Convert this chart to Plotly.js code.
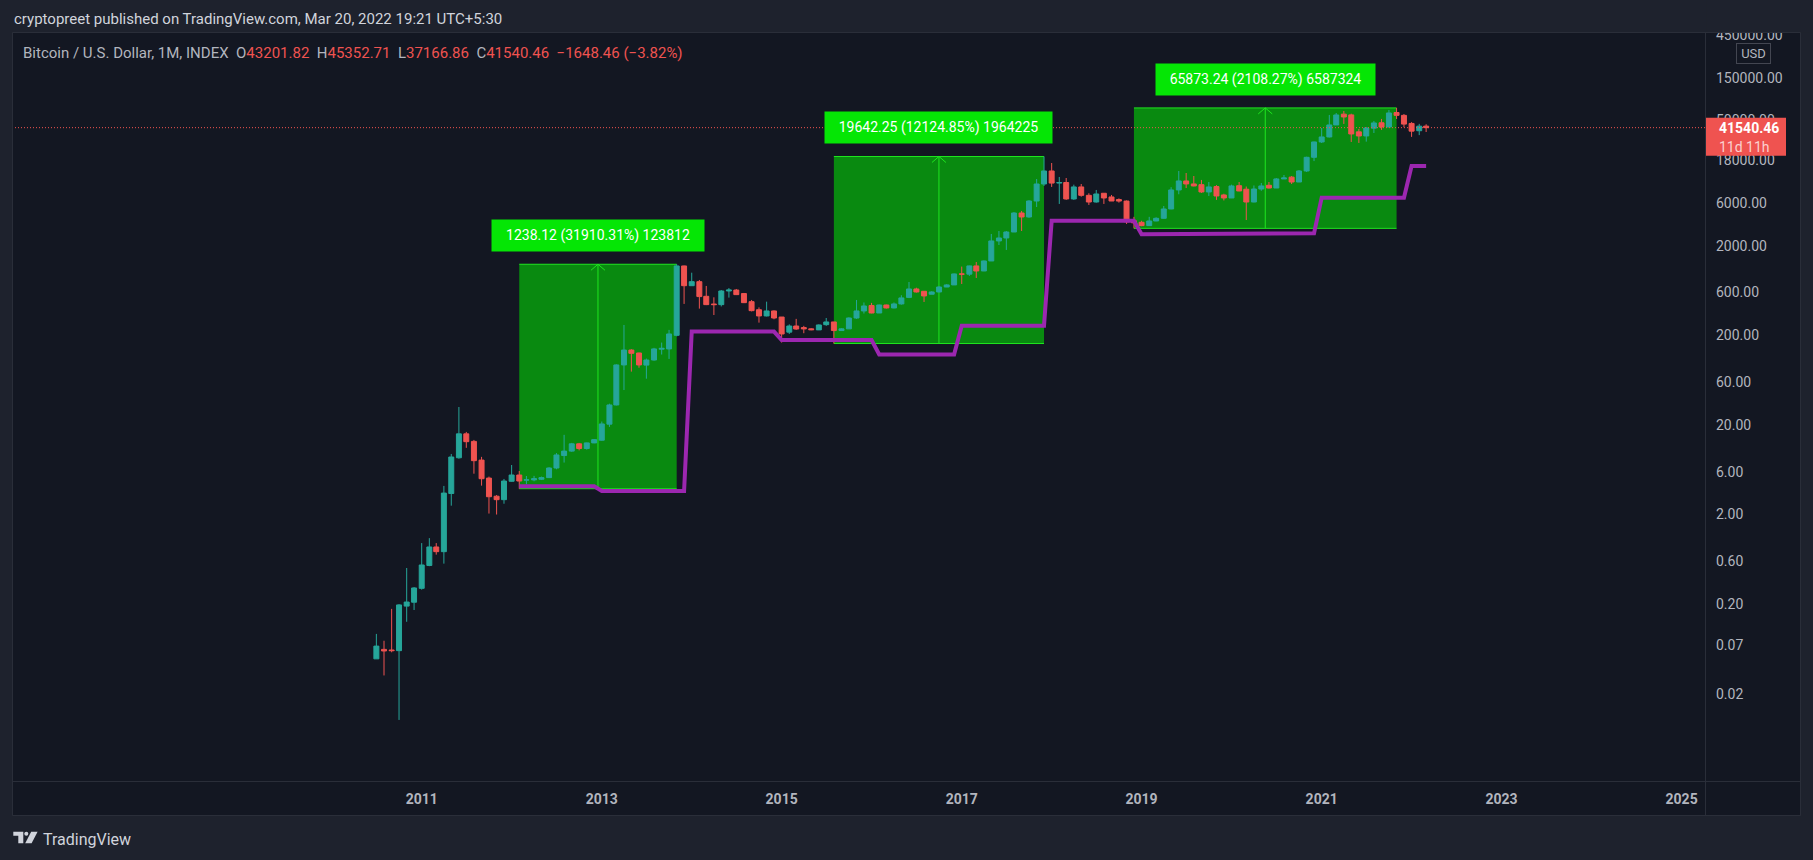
<!DOCTYPE html>
<html><head><meta charset="utf-8">
<script src="https://cdn.plot.ly/plotly-3.0.1.min.js"></script>
<style>html,body{margin:0;padding:0;background:#1e222d;}#chart{width:1813px;height:860px;}</style>
</head><body><div id="chart"></div>
<script>
// ---------- DATA ----------
const months = [
'2010-07-01','2010-08-01','2010-09-01','2010-10-01','2010-11-01','2010-12-01',
'2011-01-01','2011-02-01','2011-03-01','2011-04-01','2011-05-01','2011-06-01','2011-07-01','2011-08-01','2011-09-01','2011-10-01','2011-11-01','2011-12-01',
'2012-01-01','2012-02-01','2012-03-01','2012-04-01','2012-05-01','2012-06-01','2012-07-01','2012-08-01','2012-09-01','2012-10-01','2012-11-01','2012-12-01',
'2013-01-01','2013-02-01','2013-03-01','2013-04-01','2013-05-01','2013-06-01','2013-07-01','2013-08-01','2013-09-01','2013-10-01','2013-11-01','2013-12-01',
'2014-01-01','2014-02-01','2014-03-01','2014-04-01','2014-05-01','2014-06-01','2014-07-01','2014-08-01','2014-09-01','2014-10-01','2014-11-01','2014-12-01',
'2015-01-01','2015-02-01','2015-03-01','2015-04-01','2015-05-01','2015-06-01','2015-07-01','2015-08-01','2015-09-01','2015-10-01','2015-11-01','2015-12-01',
'2016-01-01','2016-02-01','2016-03-01','2016-04-01','2016-05-01','2016-06-01','2016-07-01','2016-08-01','2016-09-01','2016-10-01','2016-11-01','2016-12-01',
'2017-01-01','2017-02-01','2017-03-01','2017-04-01','2017-05-01','2017-06-01','2017-07-01','2017-08-01','2017-09-01','2017-10-01','2017-11-01','2017-12-01',
'2018-01-01','2018-02-01','2018-03-01','2018-04-01','2018-05-01','2018-06-01','2018-07-01','2018-08-01','2018-09-01','2018-10-01','2018-11-01','2018-12-01',
'2019-01-01','2019-02-01','2019-03-01','2019-04-01','2019-05-01','2019-06-01','2019-07-01','2019-08-01','2019-09-01','2019-10-01','2019-11-01','2019-12-01',
'2020-01-01','2020-02-01','2020-03-01','2020-04-01','2020-05-01','2020-06-01','2020-07-01','2020-08-01','2020-09-01','2020-10-01','2020-11-01','2020-12-01',
'2021-01-01','2021-02-01','2021-03-01','2021-04-01','2021-05-01','2021-06-01','2021-07-01','2021-08-01','2021-09-01','2021-10-01','2021-11-01','2021-12-01',
'2022-01-01','2022-02-01','2022-03-01'];

const opens = [
0.049,0.0625,0.0615,0.0605,0.19,0.21,
0.30,0.54,0.869,0.77,3.43,8.6,15.9,13.1,8.1,5.1,3.2,2.93,
4.7,5.52,4.85,4.87,4.95,5.16,6.61,9.1,10.2,12.3,10.9,12.6,
13.5,20.4,33.4,93.4,137,127,93,106,140,141,200,1189,
716,794,545,447,440,625,640,585,475,386,329,374,
320,217,254,244,236,230,263,282,226,236,312,374,
430,355,436,404,448,530,658,620,575,609,692,730,
968,963,1190,1045,1351,2261,2440,2845,4634,4185,6310,9770,
13650,10000,10150,6650,9060,7300,6150,7700,7000,6550,6300,3800,
3650,3350,3776,4045,5140,8380,10560,9780,9600,7960,9150,7370,
6820,9350,8540,6150,8590,9450,8810,11120,11650,10280,13650,19400,
28770,32730,44560,58800,57700,37300,33570,41000,47100,42270,61300,57000,
46300,38400,43201.82];
const highs = [
0.093,0.078,0.177,0.20,0.506,0.31,
0.96,1.09,0.96,4.17,9.48,31.7,16.7,13.6,8.8,5.3,3.3,4.99,
7.14,6.12,5.38,5.4,5.3,6.75,9.7,15.5,12.6,12.6,12.7,13.9,
21.8,34.5,95,261,140,128,110,145,166,230,1242,1200,
1000,829,711,531,640,674,658,594,496,410,475,380,
320,265,305,255,240,265,312,282,240,318,496,465,
460,441,440,465,560,787,680,620,620,705,745,980,
1170,1200,1315,1370,2705,2920,2920,4750,4887,6450,11100,19804.25,
16750,11700,11400,9600,9770,7700,8380,7700,7370,6750,6400,4200,
3800,4200,4150,5550,9000,13650,12960,12000,10840,10280,9500,7600,
9600,10280,9150,9400,10030,10280,11400,12300,12000,14000,19700,29000,
41220,57580,60600,63800,59500,40180,42300,49350,51990,65460,68997.7,59000,
47900,45800,45352.71];
const lows = [
0.049,0.032,0.058,0.0102,0.127,0.172,
0.29,0.53,0.713,0.566,2.51,8.4,11.1,5.71,4.2,2.05,2.0,2.64,
4.65,3.88,4.35,4.7,4.85,5.1,6.4,7.6,10.0,10.4,10.6,12.5,
13.3,19.0,33.0,49,78.7,87,65.6,104,122,109,195,448,
716,397,435,337,420,527,563,458,370,277,325,302,
166,207,230,211,228,229,255,162,225,236,305,350,
352,355,398,400,440,520,600,471,575,605,690,730,
748,920,873,1040,1351,2036,1794,2845,2920,4100,5410,9290,
9060,5850,6500,6500,7050,5700,6050,5850,6300,6050,3500,3124.5,
3300,3350,3750,4000,5100,7500,8810,9200,7760,7180,6490,6400,
6800,8100,3870,6100,8200,8700,8800,11100,9770,10250,13300,17600,
28000,32300,44500,45700,28770,28050,29000,36200,39170,42000,51990,42000,
32800,34300,37166.86];
const closes = [
0.068,0.060,0.0605,0.196,0.211,0.303,
0.547,0.869,0.77,3.47,8.77,15.9,13.0,7.98,5.02,3.16,2.93,4.73,
5.52,4.73,4.87,5.02,5.16,6.61,9.24,10.2,12.3,10.9,12.6,13.7,
20.5,33.4,93.4,137,126,93.4,106,141,143,207,1189,716,
794,541,440,440,625,640,569,463,377,329,374,312,
207,254,235,236,231,261,282,226,236,312,374,425,
355,436,404,448,523,658,609,550,609,692,730,968,
963,1190,1045,1351,2261,2440,2845,4634,4185,6310,9770,13650,
10000,10150,6650,9060,7300,6150,7560,6820,6310,6300,3700,3600,
3350,3776,4045,5140,8380,10560,9780,9290,7960,9060,7180,6820,
9290,8170,6150,8590,9290,8810,11120,11400,10280,13650,19400,28770,
32730,44560,57580,54680,35340,33570,41220,46900,42270,60600,57000,45500,
38000,43188.92,41540.46];

// purple step line (corner points)
const purpleDates = ['2012-02-01','2012-12-01','2013-01-01','2013-12-01','2014-01-01','2014-12-01',
'2015-01-01','2016-01-01','2016-02-01','2016-12-01','2017-01-01','2017-12-01','2018-01-01','2018-12-01',
'2019-01-01','2020-01-01','2020-02-01','2020-12-01','2021-01-01','2021-12-01','2022-01-01','2022-03-01'];
const purpleVals = [4.13,4.13,3.66,3.66,220,220,177,177,122,122,256,256,3800,3800,2680,2680,2750,2750,6880,6880,15520,15520];

// price-range drawings
const boxStart = ['2012-02-01','2015-08-01','2018-12-01'];
const boxEnd   = ['2013-11-01','2017-12-01','2021-11-01'];
const boxLow   = [3.88, 162.0, 3124.5];
const boxHigh  = [1242.0, 19804.25, 68997.7];
const boxLabels = ['1238.12 (31910.31%) 123812','19642.25 (12124.85%) 1964225','65873.24 (2108.27%) 6587324'];

// axis ticks
const yTickVals = [450000,150000,50000,18000,6000,2000,600,200,60,20,6,2,0.6,0.2,0.07,0.02];
const yTickText = ['450000.00','150000.00','50000.00','18000.00','6000.00','2000.00','600.00','200.00','60.00','20.00','6.00','2.00','0.60','0.20','0.07','0.02'];
const xTickVals = ['2011-01-01','2013-01-01','2015-01-01','2017-01-01','2019-01-01','2021-01-01','2023-01-01','2025-01-01'];
const xTickText = ['2011','2013','2015','2017','2019','2021','2023','2025'];

const headerText = 'cryptopreet published on TradingView.com, Mar 20, 2022 19:21 UTC+5:30';
const symbolText = 'Bitcoin / U.S. Dollar, 1M, INDEX';
const countdownText = '11d 11h';

// ---------- LAYOUT HELPERS ----------
const L=12, R=1706, T=33, B=781;
const pw=R-L, ph=B-T;
const yRange = [-2.673, 5.675];
const pxPerDec = ph/(yRange[1]-yRange[0]);
const px = v => (v-L)/pw;
const py = v => (B-v)/ph;
const UP='#26a69a', DN='#ef5350', PAGE='#1e222d', PANEL='#131722', FRAME='#2a2e39';
const GRN_FILL='#098a10', GRN_LINE='#1fe61f', GRN_LBL='#05e605';

const n = closes.length;
const lastO = opens[n-1], lastH = highs[n-1], lastL = lows[n-1], lastC = closes[n-1];
const chg = lastC - closes[n-2];
const pct = chg / closes[n-2] * 100;
const fmt = v => v.toFixed(2).replace('-', '\u2212');
const red = s => '<span style="color:'+DN+'">'+s+'</span>';
const sp = '\u00a0\u00a0';
const legendText = symbolText + sp + 'O' + red(fmt(lastO)) + sp + 'H' + red(fmt(lastH)) + sp + 'L' + red(fmt(lastL)) +
  sp + 'C' + red(fmt(lastC)) + sp + red(fmt(chg) + ' (' + fmt(pct) + '%)');

// ---------- TRACES ----------
const traces = [
  {type:'candlestick', x:months, open:opens, high:highs, low:lows, close:closes,
   increasing:{line:{color:UP,width:1}, fillcolor:UP},
   decreasing:{line:{color:DN,width:1}, fillcolor:DN},
   whiskerwidth:0, hoverinfo:'skip', showlegend:false},
  {type:'scatter', mode:'lines', x:purpleDates, y:purpleVals,
   line:{color:'#9c27b0', width:4}, hoverinfo:'skip', showlegend:false}
];

// ---------- SHAPES ----------
const shapes = [];
shapes.push({type:'rect', xref:'paper', yref:'paper', x0:px(12), x1:px(1800), y0:py(815), y1:py(33),
  fillcolor:PANEL, line:{width:0}, layer:'below'});

const annotations = [];
for (let i=0;i<boxStart.length;i++){
  const s = Date.parse(boxStart[i]), e = Date.parse(boxEnd[i]);
  const mid = (s+e)/2;
  shapes.push({type:'rect', xref:'x', yref:'y', x0:s, x1:e, y0:boxLow[i], y1:boxHigh[i],
    fillcolor:GRN_FILL, line:{width:0}, layer:'below'});
  shapes.push({type:'line', xref:'x', yref:'y', x0:s, x1:e, y0:boxHigh[i], y1:boxHigh[i],
    line:{color:GRN_LINE, width:1}, layer:'below'});
  shapes.push({type:'line', xref:'x', yref:'y', x0:s, x1:e, y0:boxLow[i], y1:boxLow[i],
    line:{color:GRN_LINE, width:1}, layer:'below'});
  shapes.push({type:'line', xref:'x', yref:'y', x0:mid, x1:mid, y0:boxLow[i], y1:boxHigh[i],
    line:{color:GRN_LINE, width:1}, layer:'below'});
  shapes.push({type:'path', xref:'x', yref:'y', xsizemode:'pixel', ysizemode:'pixel',
    xanchor:mid, yanchor:boxHigh[i], path:'M-7,-6L0,0L7,-6',
    line:{color:GRN_LINE, width:1}, layer:'below'});
  annotations.push({xref:'x', yref:'y', x:mid, y:Math.log10(boxHigh[i]), xanchor:'center', yanchor:'bottom',
    yshift:12, text:boxLabels[i], showarrow:false, bgcolor:GRN_LBL, borderpad:7,
    width:Math.round(boxLabels[i].length*7.6), height:17,
    font:{color:'#ffffff', size:14, family:'Roboto'}});
}

// last price dotted line
shapes.push({type:'line', xref:'paper', x0:0, x1:1, yref:'y', y0:lastC, y1:lastC,
  line:{color:DN, width:1, dash:'1px,2px'}, layer:'above'});
// clip over top of axis label column
shapes.push({type:'rect', xref:'paper', yref:'paper', x0:px(1706.5), x1:px(1813), y0:py(32.5), y1:py(0),
  fillcolor:PAGE, line:{width:0}, layer:'above'});
// price label box (10 px above, 28 px below the last price)
shapes.push({type:'rect', xref:'paper', yref:'y', x0:px(1705), x1:px(1786),
  y0:lastC*Math.pow(10,-28/pxPerDec), y1:lastC*Math.pow(10,10/pxPerDec),
  fillcolor:DN, line:{width:0}, layer:'above'});
// frame + separators
shapes.push({type:'rect', xref:'paper', yref:'paper', x0:px(12.5), x1:px(1800.5), y0:py(815.5), y1:py(32.5),
  fillcolor:'rgba(0,0,0,0)', line:{color:FRAME, width:1}, layer:'above'});
shapes.push({type:'line', xref:'paper', yref:'paper', x0:px(12), x1:px(1800), y0:py(781.5), y1:py(781.5),
  line:{color:FRAME, width:1}, layer:'above'});
shapes.push({type:'line', xref:'paper', yref:'paper', x0:px(1705.5), x1:px(1705.5), y0:py(815), y1:py(33),
  line:{color:FRAME, width:1}, layer:'above'});
// TradingView logo glyph
const P = (pts) => 'M' + pts.map(p => px(p[0]) + ',' + py(p[1])).join('L') + 'Z';
shapes.push({type:'path', xref:'paper', yref:'paper',
  path:P([[13.3,831.7],[23.3,831.7],[23.3,843.3],[18.3,843.3],[18.3,835.7],[13.3,835.7]]),
  fillcolor:'#d1d4dc', line:{width:0}, layer:'above'});
shapes.push({type:'circle', xref:'paper', yref:'paper', x0:px(24.3), x1:px(28.3), y0:py(835.7), y1:py(831.7),
  fillcolor:'#d1d4dc', line:{width:0}, layer:'above'});
shapes.push({type:'path', xref:'paper', yref:'paper',
  path:P([[31.2,831.7],[37.6,831.7],[31.6,843.3],[25.2,843.3]]),
  fillcolor:'#d1d4dc', line:{width:0}, layer:'above'});

// ---------- TEXT ANNOTATIONS ----------
annotations.push({xref:'paper', yref:'paper', x:px(12), y:py(19), xanchor:'left', yanchor:'middle',
  text:headerText, showarrow:false, font:{size:15, color:'#d1d4dc', family:'Roboto'}});
annotations.push({xref:'paper', yref:'paper', x:px(21), y:py(53), xanchor:'left', yanchor:'middle',
  text:legendText, showarrow:false, font:{size:15, color:'#b2b5be', family:'Roboto'}});
annotations.push({xref:'paper', yref:'y', x:px(1717), y:Math.log10(lastC), xanchor:'left', yanchor:'middle',
  text:'<b>'+lastC.toFixed(2)+'</b>', showarrow:false, font:{size:14, color:'#ffffff', family:'Roboto'}});
annotations.push({xref:'paper', yref:'y', x:px(1717), y:Math.log10(lastC), yshift:-19, xanchor:'left', yanchor:'middle',
  text:countdownText, showarrow:false, font:{size:14, color:'#fbd0cf', family:'Roboto'}});
annotations.push({xref:'paper', yref:'paper', x:px(1753.5), y:py(53.5), xanchor:'center', yanchor:'middle',
  text:'USD', showarrow:false, width:27, height:13, borderpad:3, bordercolor:'#434651', borderwidth:1,
  font:{size:13, color:'#b2b5be', family:'Roboto'}});
annotations.push({xref:'paper', yref:'paper', x:px(41), y:py(839), xanchor:'left', yanchor:'middle',
  text:'TradingView', showarrow:false, font:{size:16, color:'#d1d4dc', family:'Roboto'}});

const layout = {
  width:1813, height:860,
  margin:{l:L, r:1813-R, t:T, b:860-B, pad:0},
  paper_bgcolor:PAGE, plot_bgcolor:PANEL,
  font:{family:'Roboto, sans-serif', color:'#b2b5be'},
  showlegend:false, hovermode:false, dragmode:false,
  boxgap:0.28, boxgroupgap:0,
  xaxis:{type:'date', range:['2006-06-13','2025-04-10'], tickmode:'array', tickvals:xTickVals, ticktext:xTickText,
    showgrid:false, zeroline:false, showline:false, ticks:'', ticklabelstandoff:8,
    tickfont:{size:14, color:'#b2b5be', weight:'bold'}, rangeslider:{visible:false}, fixedrange:true},
  yaxis:{type:'log', side:'right', range:yRange, tickmode:'array', tickvals:yTickVals, ticktext:yTickText,
    showgrid:false, zeroline:false, showline:false, ticks:'', ticklabelstandoff:9,
    tickfont:{size:14, color:'#b2b5be'}, fixedrange:true},
  shapes:shapes, annotations:annotations
};

Plotly.newPlot('chart', traces, layout, {staticPlot:true, displayModeBar:false});
</script>
</body></html>
